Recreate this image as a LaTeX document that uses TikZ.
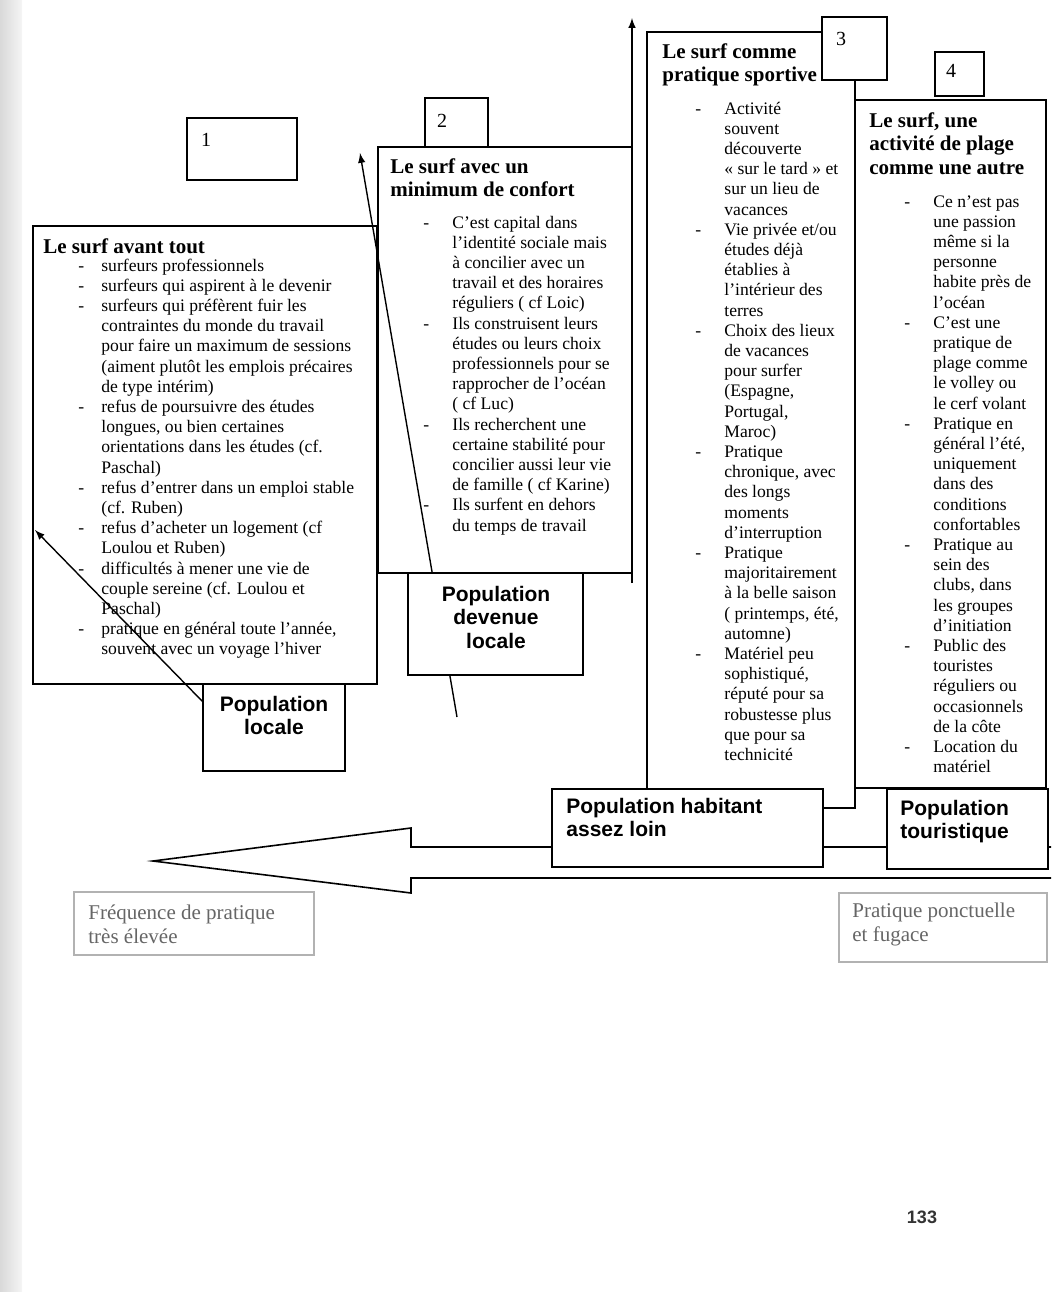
\documentclass[tikz,border=0pt]{standalone}
\usepackage{fontspec}
\setmainfont{Liberation Serif}
\setsansfont{Liberation Sans}

\tikzset{
  panel/.style={draw, fill=white, line width=0.8pt, inner sep=0pt, outer sep=0pt, anchor=north west},
  softbox/.style={draw=gray!60, fill=white, line width=0.6pt, inner sep=0pt, outer sep=0pt, anchor=north west},
  numtext/.style={font=\fontsize{10}{12}\selectfont, inner sep=0pt},
  headtext/.style={font=\fontsize{10.5}{11.75}\selectfont\bfseries, anchor=base west, inner sep=0pt},
  listtext/.style={font=\fontsize{8.8}{10.1}\selectfont, anchor=base west, inner sep=0pt},
  poptext/.style={font=\sffamily\bfseries\fontsize{10.5}{11.75}\selectfont, inner sep=0pt},
  softtext/.style={font=\fontsize{10.5}{12}\selectfont, text=black!60, anchor=base west, inner sep=0pt},
  conn/.style={-latex, line width=0.7pt}
}

\begin{document}
\begin{tikzpicture}[x=0.5pt, y=-0.5pt]
    \useasboundingbox (0,0) rectangle (1051,1292);

    % edge of the scanned page
    \shade[left color=gray!30, right color=gray!8] (0,0) rectangle (22,1292);

    % hollow arrow along the bottom
    \draw[line width=0.8pt, fill=white] (1051,847) -- (411,847) -- (411,828) -- (153,861)
        -- (411,893) -- (411,878) -- (1051,878);

    % panel 1
    \node[panel, minimum width=172pt, minimum height=229pt] (box1) at (33,226) {};
    \node[panel, minimum width=55pt, minimum height=31pt] (num1box) at (187,118) {};
    \node[numtext] (num1) at (206,140) {1};
    \node[headtext] (head1) at (43,253) {Le surf avant tout};
    \node[listtext] (list1) at (78,271) {\begin{tabular}[t]{@{}p{11.5pt}@{}l@{}}
        - & surfeurs professionnels\\
        - & surfeurs qui aspirent à le devenir\\
        - & surfeurs qui préfèrent fuir les\\
          & contraintes du monde du travail\\
          & pour faire un maximum de sessions\\
          & (aiment plutôt les emplois précaires\\
          & de type intérim)\\
        - & refus de poursuivre des études\\
          & longues, ou bien certaines\\
          & orientations dans les études (cf.\\
          & Paschal)\\
        - & refus d’entrer dans un emploi stable\\
          & (cf. Ruben)\\
        - & refus d’acheter un logement (cf\\
          & Loulou et Ruben)\\
        - & difficultés à mener une vie de\\
          & couple sereine (cf. Loulou et\\
          & Paschal)\\
        - & pratique en général toute l’année,\\
          & souvent avec un voyage l’hiver
    \end{tabular}};

    % panel 2
    \node[panel, minimum width=127pt, minimum height=213pt] (box2) at (378,147) {};
    \node[panel, minimum width=31.5pt, minimum height=24.5pt] (num2box) at (425,98) {};
    \node[numtext] (num2) at (442,121) {2};
    \node[headtext] (head2) at (390,173) {\begin{tabular}[t]{@{}l@{}}
        Le surf avec un\\ minimum de confort\end{tabular}};
    \node[listtext] (list2) at (423,228) {\begin{tabular}[t]{@{}p{14.5pt}@{}l@{}}
        - & C’est capital dans\\
          & l’identité sociale mais\\
          & à concilier avec un\\
          & travail et des horaires\\
          & réguliers ( cf Loic)\\
        - & Ils construisent leurs\\
          & études ou leurs choix\\
          & professionnels pour se\\
          & rapprocher de l’océan\\
          & ( cf Luc)\\
        - & Ils recherchent une\\
          & certaine stabilité pour\\
          & concilier aussi leur vie\\
          & de famille ( cf Karine)\\
        - & Ils surfent en dehors\\
          & du temps de travail
    \end{tabular}};

    % arrows between panels 1 and 2
    \coordinate (devtail) at (457,717);
    \coordinate (devtip) at (360,153);
    \draw[conn] (devtail) -- (devtip);
    \coordinate (uptip) at (632,18);
    \draw[conn] ([yshift=-5pt]box2.south east) -- (uptip);

    % populations 1 and 2
    \node[panel, minimum width=87.5pt, minimum height=51pt] (popdev) at (408,573) {};
    \node[poptext, anchor=base] (popdevt) at (496,601) {\begin{tabular}[t]{@{}c@{}}
        Population\\ devenue\\ locale\end{tabular}};
    \node[panel, minimum width=71pt, minimum height=43.5pt] (popl) at (203,684) {};
    \node[poptext, anchor=base] (poplt) at (274,711) {\begin{tabular}[t]{@{}c@{}}
        Population\\ locale\end{tabular}};
    \coordinate (loctip) at (35,530);
    \draw[conn] ([yshift=-9pt]popl.north west) -- (loctip);

    % panel 3
    \node[panel, minimum width=104pt, minimum height=388pt] (box3) at (647,32) {};
    \node[panel, minimum width=32.5pt, minimum height=31.5pt] (num3box) at (822,17) {};
    \node[numtext] (num3) at (841,39) {3};
    \node[headtext] (head3) at (662,58) {\begin{tabular}[t]{@{}l@{}}
        Le surf comme\\ pratique sportive\end{tabular}};
    \node[listtext] (list3) at (695,114) {\begin{tabular}[t]{@{}p{14.5pt}@{}l@{}}
        - & Activité\\
          & souvent\\
          & découverte\\
          & « sur le tard » et\\
          & sur un lieu de\\
          & vacances\\
        - & Vie privée et/ou\\
          & études déjà\\
          & établies à\\
          & l’intérieur des\\
          & terres\\
        - & Choix des lieux\\
          & de vacances\\
          & pour surfer\\
          & (Espagne,\\
          & Portugal,\\
          & Maroc)\\
        - & Pratique\\
          & chronique, avec\\
          & des longs\\
          & moments\\
          & d’interruption\\
        - & Pratique\\
          & majoritairement\\
          & à la belle saison\\
          & ( printemps, été,\\
          & automne)\\
        - & Matériel peu\\
          & sophistiqué,\\
          & réputé pour sa\\
          & robustesse plus\\
          & que pour sa\\
          & technicité
    \end{tabular}};

    % panel 4
    \node[panel, minimum width=95.5pt, minimum height=344pt] (box4) at (855,100) {};
    \node[panel, minimum width=24.5pt, minimum height=22pt] (num4box) at (935,52) {};
    \node[numtext] (num4) at (951,71) {4};
    \node[headtext] (head4) at (869,127) {\begin{tabular}[t]{@{}l@{}}
        Le surf, une\\ activité de plage\\ comme une autre\end{tabular}};
    \node[listtext] (list4) at (904,207) {\begin{tabular}[t]{@{}p{14.5pt}@{}l@{}}
        - & Ce n’est pas\\
          & une passion\\
          & même si la\\
          & personne\\
          & habite près de\\
          & l’océan\\
        - & C’est une\\
          & pratique de\\
          & plage comme\\
          & le volley ou\\
          & le cerf volant\\
        - & Pratique en\\
          & général l’été,\\
          & uniquement\\
          & dans des\\
          & conditions\\
          & confortables\\
        - & Pratique au\\
          & sein des\\
          & clubs, dans\\
          & les groupes\\
          & d’initiation\\
        - & Public des\\
          & touristes\\
          & réguliers ou\\
          & occasionnels\\
          & de la côte\\
        - & Location du\\
          & matériel
    \end{tabular}};

    % populations 3 and 4
    \node[panel, minimum width=135.5pt, minimum height=39pt] (pophab) at (552,789) {};
    \node[poptext, anchor=base west] (pophabt) at (566,813) {\begin{tabular}[t]{@{}l@{}}
        Population habitant\\ assez loin\end{tabular}};
    \node[panel, minimum width=80.5pt, minimum height=40pt] (poptour) at (887,789) {};
    \node[poptext, anchor=base west] (poptourt) at (900,815) {\begin{tabular}[t]{@{}l@{}}
        Population\\ touristique\end{tabular}};

    % ends of the scale
    \node[softbox, minimum width=120pt, minimum height=31.5pt] (freq) at (74,892) {};
    \node[softtext] (freqt) at (88,919) {\begin{tabular}[t]{@{}l@{}}
        Fréquence de pratique\\ très élevée\end{tabular}};
    \node[softbox, minimum width=104pt, minimum height=34.5pt] (ponct) at (839,893) {};
    \node[softtext] (ponctt) at (852,917) {\begin{tabular}[t]{@{}l@{}}
        Pratique ponctuelle\\ et fugace\end{tabular}};

    % page number
    \node[font=\sffamily\bfseries\fontsize{9}{10}\selectfont, text=black!80] (pagenum) at (922,1217) {133};
\end{tikzpicture}
\end{document}
